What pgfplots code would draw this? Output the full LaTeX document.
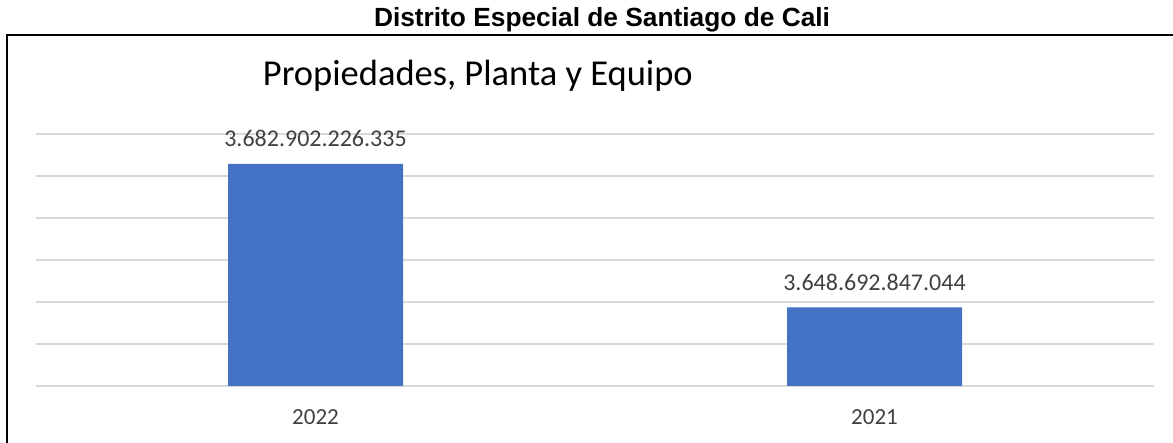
\documentclass[border=0pt]{standalone}
\usepackage{pgfplots}
\pgfplotsset{compat=1.18}
\usepackage{fontspec}
\setmainfont{Carlito}
\newfontfamily\arialfont{Liberation Sans}
\definecolor{barblue}{HTML}{4472C4}
\definecolor{gridgray}{HTML}{D9D9D9}
\definecolor{labelgray}{HTML}{404040}
\begin{document}
\begin{tikzpicture}
\useasboundingbox (0,0) rectangle (1173bp,443bp);
\draw[line width=2bp] (7bp,-10bp) -- (7bp,408bp) -- (1190bp,408bp);
\node[anchor=base, inner sep=0, font=\arialfont\bfseries\fontsize{26.3bp}{30bp}\selectfont] at (602bp,416bp) {Distrito Especial de Santiago de Cali};
\node[anchor=base west, inner sep=0, font=\fontsize{36.5bp}{44bp}\selectfont] at (262.7bp,357bp) {Propiedades, Planta y Equipo};
\begin{axis}[
  at={(36bp,57bp)}, anchor=south west,
  scale only axis, width=1118bp, height=252bp,
  xmin=-0.5, xmax=1.5, ymin=3630000000000, ymax=3690000000000,
  ytick={3630000000000,3640000000000,3650000000000,3660000000000,3670000000000,3680000000000,3690000000000},
  yticklabels={}, scaled y ticks=false,
  xtick={0,1}, xticklabels={2022,2021},
  axis line style={draw=none},
  ymajorgrids, grid style={gridgray, line width=1.3bp},
  major tick length=0,
  xticklabel style={anchor=base, yshift=-38bp, font=\fontsize{23bp}{28bp}\selectfont, text=labelgray, inner sep=0},
  ybar, bar width=175bp,
  nodes near coords, point meta=explicit symbolic,
  nodes near coords style={anchor=south, inner sep=0, yshift=17bp, font=\fontsize{24bp}{28bp}\selectfont, text=labelgray},
]
\addplot[fill=barblue, draw=none] coordinates {(0,3682902226335) [3.682.902.226.335] (1,3648692847044) [3.648.692.847.044]};
\end{axis}
\end{tikzpicture}
\end{document}
